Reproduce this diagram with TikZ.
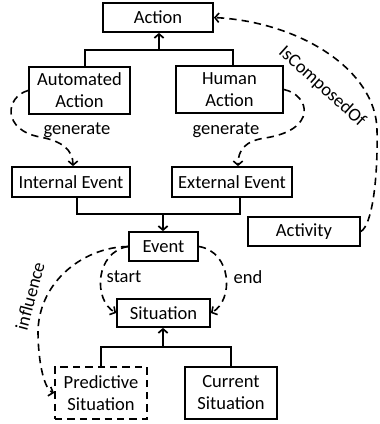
\documentclass[tikz,border=0pt]{standalone}
\usepackage{fontspec}
\setmainfont{Carlito}
\usetikzlibrary{arrows.meta}
\tikzset{
  txt/.style={font=\fontsize{13.9}{16.5}\selectfont},
  box/.style={txt, draw, line width=1.3pt, inner sep=0pt, align=center},
  dep/.style={->, line width=1.2pt, dash pattern=on 5.5pt off 3.8pt},
  >={Straight Barb[length=3pt,width=7pt]},
}
\begin{document}
\begin{tikzpicture}[x=0.75pt, y=-0.75pt]
\useasboundingbox (0,0) rectangle (379,424);
\node[box, minimum width=82.5pt, minimum height=21.75pt] (act) at (158,17.5) {Action};
\node[box, minimum width=75.75pt, minimum height=35.25pt] (auto) at (79.5,90.5) {Automated\\Action};
\node[box, minimum width=80.25pt, minimum height=35.25pt] (human) at (229.5,89.5) {Human\\Action};
\node[box, minimum width=88.5pt, minimum height=22.5pt] (intev) at (71,182) {Internal Event};
\node[box, minimum width=90pt, minimum height=22.5pt] (extev) at (232,182) {External Event};
\node[box, minimum width=51.75pt, minimum height=21.75pt] (event) at (163.5,246.5) {Event};
\node[box, minimum width=84pt, minimum height=21.75pt] (activity) at (304,231.5) {Activity};
\node[box, minimum width=69.75pt, minimum height=21pt] (sit) at (163.5,313) {Situation};
\node[box, dash pattern=on 5.5pt off 3.8pt, minimum width=69pt, minimum height=39pt] (pred) at (101,393) {Predictive\\Situation};
\node[box, minimum width=69pt, minimum height=39pt] (curr) at (231,393) {Current\\Situation};

\coordinate (top) at (159,50);
\coordinate (mid) at (163,214);
\coordinate (bot) at (163,347);
\draw[line width=1.3pt] ([xshift=4.1pt]auto.north) |- (top) -| ([xshift=2.6pt]human.north);
\draw[line width=1.3pt, ->] (top) -- (top |- act.south);
\draw[line width=1.3pt] ([xshift=4.5pt]intev.south) |- (mid) -| ([xshift=6pt]extev.south);
\draw[line width=1.3pt, ->] (mid) -- (mid |- event.north);
\draw[line width=1.3pt] (pred.north) |- (bot) -| (curr.north);
\draw[line width=1.3pt, ->] (bot) -- (bot |- sit.south);

\draw[dep] (auto.west) .. controls (5,97) and (2,130) .. (40,137) .. controls (62,141) and (73,150) .. ([xshift=1.5pt]intev.north);
\node[txt] (gen1) at (77,130) {generate};
\draw[dep] (human.east) .. controls (310,95) and (318,130) .. (265,138) .. controls (245,141) and (238,150) .. ([xshift=4.5pt]extev.north);
\node[txt] (gen2) at (226,130) {generate};
\draw[dep] (activity.east) .. controls (372,225) and (378,180) .. (377,130) .. controls (376,70) and (300,22) .. (act.east);
\node[txt, rotate=-42] (comp) at (322,87) {IsComposedOf};
\draw[dep] (event.west) .. controls (95,252) and (93,300) .. (sit.west);
\node[txt] (start) at (124,277) {start};
\draw[dep] (event.east) .. controls (232,252) and (234,300) .. (sit.east);
\node[txt] (end) at (248,277) {end};
\draw[dep] (event.west) .. controls (85,247) and (40,280) .. (38,330) .. controls (38,365) and (45,390) .. (pred.west);
\node[txt, rotate=75] (infl) at (30,296) {influence};
\end{tikzpicture}
\end{document}
